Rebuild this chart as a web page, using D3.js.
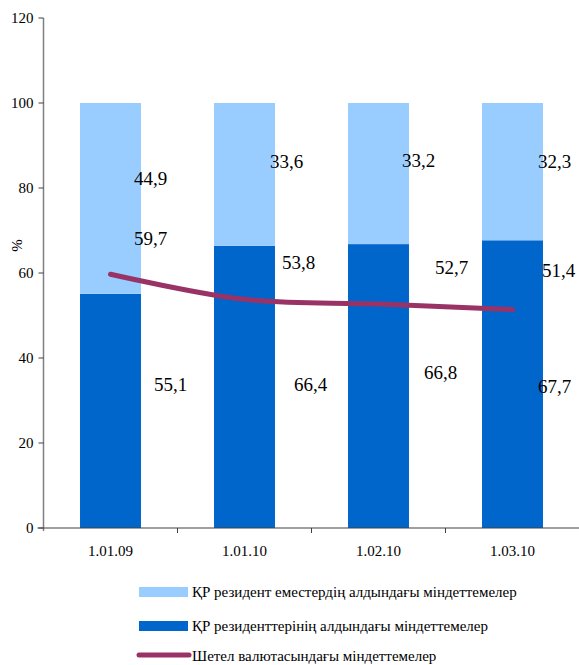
<!DOCTYPE html>
<html>
<head>
<meta charset="utf-8">
<script src="https://cdn.jsdelivr.net/npm/d3@7"></script>
<style>
  body { margin: 0; background: #fff; font-family: 'Liberation Serif', 'Times New Roman', serif; }
  svg text { font-family: 'Liberation Serif', 'Times New Roman', serif; }
</style>
</head>
<body>
<svg id="fig" width="579" height="665"></svg>
<script>
// Chart data
const dates = ['1.01.09', '1.01.10', '1.02.10', '1.03.10'];
const residents = [55.1, 66.4, 66.8, 67.7];
const nonResidents = [44.9, 33.6, 33.2, 32.3];
const foreignCurrency = [59.7, 53.8, 52.7, 51.4];
const yTicks = [0, 20, 40, 60, 80, 100, 120];
const legendLabels = [
    'ҚР резидент еместердің алдындағы міндеттемелер',
    'ҚР резиденттерінің алдындағы міндеттемелер',
    'Шетел валютасындағы міндеттемелер'
];

const colorLight = '#99ccff';
const colorDark = '#0066cc';
const colorLine = '#993366';
const serifFont = "'Liberation Serif', 'Times New Roman', serif";

const width = 579;
const height = 665;
const margin = { left: 43.5, right: 0, top: 18, bottom: 137 };

// label nudges (px), the original labels were hand placed
const nudgeTop = [[40, -20], [42, -13], [40, -13], [42, -10]];
const nudgeBottom = [[60, -27], [66, -3], [62, -14], [42, 2]];
const nudgeLine = [[40, -36], [54, -37], [73, -37], [46, -39]];

const svg = d3.select('#fig').attr('font-family', serifFont);

const x = d3.scaleBand()
    .domain(dates)
    .range([margin.left, margin.left + 134 * dates.length])
    .paddingInner(0.545)
    .paddingOuter(0.2725);

const y = d3.scaleLinear()
    .domain([0, 120])
    .range([height - margin.bottom, margin.top]);

const cx = d => x(d) + x.bandwidth() / 2;

// bars: residents at the bottom, non-residents on top
svg.append('g').selectAll('rect')
    .data(dates)
    .enter().append('rect')
    .attr('x', d => x(d))
    .attr('width', x.bandwidth())
    .attr('y', (d, i) => y(residents[i]))
    .attr('height', (d, i) => y(0) - y(residents[i]))
    .attr('fill', colorDark);

svg.append('g').selectAll('rect')
    .data(dates)
    .enter().append('rect')
    .attr('x', d => x(d))
    .attr('width', x.bandwidth())
    .attr('y', (d, i) => y(residents[i] + nonResidents[i]))
    .attr('height', (d, i) => y(residents[i]) - y(residents[i] + nonResidents[i]))
    .attr('fill', colorLight);

// y axis
const yAxis = svg.append('g');
yAxis.append('line')
    .attr('x1', margin.left).attr('x2', margin.left)
    .attr('y1', y(120)).attr('y2', y(0) + 3)
    .attr('stroke', '#808080').attr('stroke-width', 1.5);
const yTick = yAxis.selectAll('g')
    .data(yTicks)
    .enter().append('g')
    .attr('transform', d => `translate(${margin.left},${y(d)})`);
yTick.append('line').attr('x1', -5).attr('x2', 0).attr('stroke', '#404040');
yTick.append('text')
    .attr('x', -10)
    .attr('dy', '0.35em')
    .attr('text-anchor', 'end')
    .attr('font-size', 15)
    .text(d => d);

svg.append('text')
    .attr('transform', `translate(22,${y(66.5)}) rotate(-90)`)
    .attr('text-anchor', 'middle')
    .attr('font-size', 15)
    .text('%');

// x axis
const xAxisG = svg.append('g')
    .attr('transform', `translate(0,${y(0)})`);
xAxisG.append('line')
    .attr('x1', margin.left - 6)
    .attr('x2', width)
    .attr('stroke', '#404040')
    .attr('stroke-width', 1.2);
xAxisG.selectAll('line.tk')
    .data(dates.slice(1))
    .enter().append('line')
    .attr('x1', d => x(d) - x.step() * x.paddingInner() / 2)
    .attr('x2', d => x(d) - x.step() * x.paddingInner() / 2)
    .attr('y1', 0)
    .attr('y2', 5)
    .attr('stroke', '#404040');
xAxisG.selectAll('text')
    .data(dates)
    .enter().append('text')
    .attr('x', d => cx(d))
    .attr('y', 28)
    .attr('text-anchor', 'middle')
    .attr('font-size', 15)
    .text(d => d);

// smoothed line
const line = d3.line()
    .x((d, i) => cx(dates[i]))
    .y(d => y(d))
    .curve(d3.curveCatmullRom.alpha(0.5));

svg.append('path')
    .datum(foreignCurrency)
    .attr('d', line)
    .attr('fill', 'none')
    .attr('stroke', colorLine)
    .attr('stroke-width', 5)
    .attr('stroke-linecap', 'round');

// data labels
const labelFont = 19;
const fmt = v => d3.format('.1f')(v).replace('.', ',');

svg.append('g').selectAll('text')
    .data(nonResidents)
    .enter().append('text')
    .attr('x', (d, i) => cx(dates[i]) + nudgeTop[i][0])
    .attr('y', (d, i) => y(residents[i] + d / 2) + nudgeTop[i][1])
    .attr('dy', '0.35em')
    .attr('text-anchor', 'middle')
    .attr('font-size', labelFont)
    .text(fmt);

svg.append('g').selectAll('text')
    .data(residents)
    .enter().append('text')
    .attr('x', (d, i) => cx(dates[i]) + nudgeBottom[i][0])
    .attr('y', (d, i) => y(d / 2) + nudgeBottom[i][1])
    .attr('dy', '0.35em')
    .attr('text-anchor', 'middle')
    .attr('font-size', labelFont)
    .text(fmt);

svg.append('g').selectAll('text')
    .data(foreignCurrency)
    .enter().append('text')
    .attr('x', (d, i) => cx(dates[i]) + nudgeLine[i][0])
    .attr('y', (d, i) => y(d) + nudgeLine[i][1])
    .attr('dy', '0.35em')
    .attr('text-anchor', 'middle')
    .attr('font-size', labelFont)
    .text(fmt);

// legend
const legend = svg.append('g').attr('transform', 'translate(139,592)');
const legendItems = legend.selectAll('g')
    .data(legendLabels)
    .enter().append('g')
    .attr('transform', (d, i) => `translate(0,${[0, 34, 64][i]})`);

legendItems.filter((d, i) => i < 2).append('rect')
    .attr('x', 0)
    .attr('y', -5)
    .attr('width', 49)
    .attr('height', 10)
    .attr('fill', (d, i) => [colorLight, colorDark][i]);

legendItems.filter((d, i) => i === 2).append('line')
    .attr('x1', 0)
    .attr('x2', 50)
    .attr('y1', -1)
    .attr('y2', -1)
    .attr('stroke', colorLine)
    .attr('stroke-width', 5)
    .attr('stroke-linecap', 'round');

legendItems.append('text')
    .attr('x', 53)
    .attr('dy', '0.35em')
    .attr('font-size', 15)
    .text(d => d);

svg.selectAll('text').attr('font-family', serifFont);
</script>
</body>
</html>
